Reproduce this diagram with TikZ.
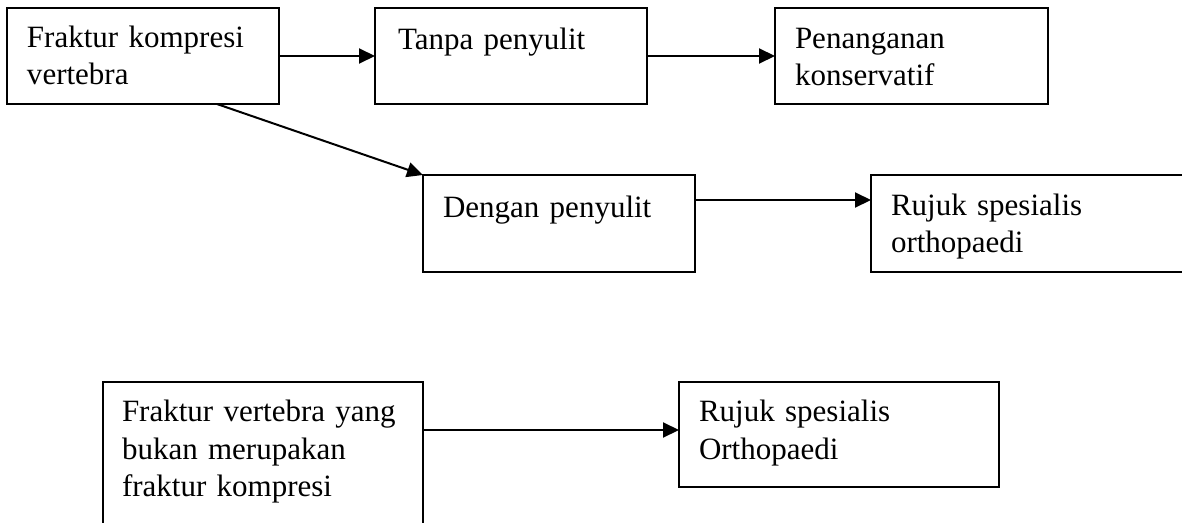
\documentclass[tikz,border=0pt]{standalone}
\usepackage{fontspec}
\setmainfont{Liberation Serif}
\usetikzlibrary{arrows.meta}
\begin{document}
\begin{tikzpicture}[x=1pt,y=-1pt,
  box/.style={draw=black,line width=1.6pt,inner sep=0pt,outer sep=0pt,rectangle},
  txt/.style={anchor=base west,inner sep=0pt,outer sep=0pt,text width=320pt,align=left,font=\fontsize{31}{37.5}\selectfont},
  arr/.style={line width=2pt,-{Triangle[length=16pt,width=15pt]}}]
\clip (0,0) rectangle (1182,522);
\fill[white] (0,0) rectangle (1182,522);
% boxes
\node[box,minimum width=272pt,minimum height=96pt] (b1) at (143,56) {};
\node[box,minimum width=272pt,minimum height=96pt] (b2) at (511,56) {};
\node[box,minimum width=273pt,minimum height=96pt] (b3) at (911.5,56) {};
\node[box,minimum width=272pt,minimum height=97pt] (b4) at (559,223.5) {};
\node[box,minimum width=319pt,minimum height=97pt] (b5) at (1030.5,223.5) {};
\node[box,minimum width=320pt,minimum height=148pt] (b6) at (263,456) {};
\node[box,minimum width=320pt,minimum height=105pt] (b7) at (839,434.5) {};
% texts
\node[txt] (t1) at (27,47) {Fraktur kompresi\\vertebra};
\node[txt] (t2) at (398,49) {Tanpa penyulit};
\node[txt] (t3) at (795,48) {Penanganan\\konservatif};
\node[txt] (t4) at (443,217) {Dengan penyulit};
\node[txt] (t5) at (891,215) {Rujuk spesialis\\orthopaedi};
\node[txt] (t6) at (122,421.5) {Fraktur vertebra yang\\bukan merupakan\\fraktur kompresi};
\node[txt] (t7) at (699,421.5) {Rujuk spesialis\\Orthopaedi};
% connectors
\draw[arr] (b1.east) -- (b2.west);
\draw[arr] (b2.east) -- (b3.west);
\draw[arr] (b1.-33.7) -- (b4.north west);
\draw[arr] ([yshift=-25pt]b4.north east) -- ([yshift=-25pt]b5.north west);
\draw[arr] ([yshift=-48pt]b6.north east) -- ([yshift=-48pt]b7.north west);
\end{tikzpicture}
\end{document}
